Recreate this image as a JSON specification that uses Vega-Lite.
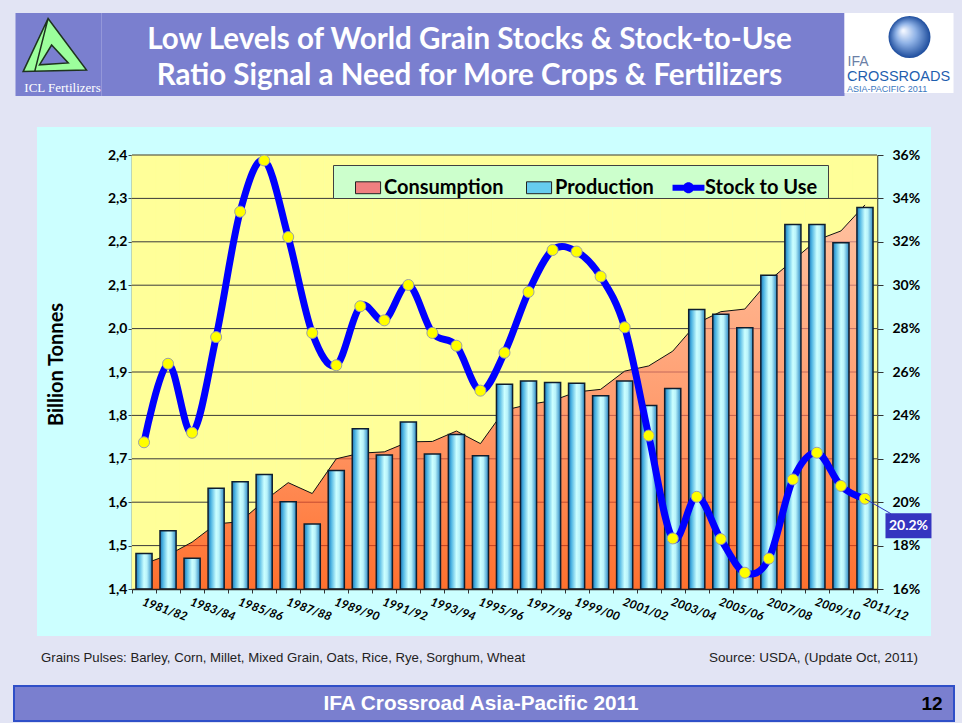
{
  "$schema": "https://vega.github.io/schema/vega-lite/v6.json",
  "background": "#E2E4F4",
  "padding": {"left": 13, "top": 13, "right": 9, "bottom": 2},
  "config": {"view": {"stroke": null}, "font": "Lato"},
  "datasets": {
    "grain": [
      {"season": "1981/82", "production": 1.482, "consumption": 1.458, "stu": 0.2276},
      {"season": "1982/83", "production": 1.534, "consumption": 1.478, "stu": 0.2638},
      {"season": "1983/84", "production": 1.471, "consumption": 1.508, "stu": 0.2320},
      {"season": "1984/85", "production": 1.632, "consumption": 1.550, "stu": 0.2761},
      {"season": "1985/86", "production": 1.647, "consumption": 1.555, "stu": 0.3339},
      {"season": "1986/87", "production": 1.664, "consumption": 1.603, "stu": 0.3575},
      {"season": "1987/88", "production": 1.601, "consumption": 1.645, "stu": 0.3222},
      {"season": "1988/89", "production": 1.550, "consumption": 1.620, "stu": 0.2780},
      {"season": "1989/90", "production": 1.673, "consumption": 1.700, "stu": 0.2631},
      {"season": "1990/91", "production": 1.769, "consumption": 1.713, "stu": 0.2903},
      {"season": "1991/92", "production": 1.709, "consumption": 1.716, "stu": 0.2838},
      {"season": "1992/93", "production": 1.785, "consumption": 1.739, "stu": 0.3001},
      {"season": "1993/94", "production": 1.711, "consumption": 1.740, "stu": 0.2780},
      {"season": "1994/95", "production": 1.756, "consumption": 1.764, "stu": 0.2721},
      {"season": "1995/96", "production": 1.707, "consumption": 1.735, "stu": 0.2514},
      {"season": "1996/97", "production": 1.872, "consumption": 1.812, "stu": 0.2689},
      {"season": "1997/98", "production": 1.879, "consumption": 1.825, "stu": 0.2969},
      {"season": "1998/99", "production": 1.876, "consumption": 1.834, "stu": 0.3162},
      {"season": "1999/00", "production": 1.874, "consumption": 1.854, "stu": 0.3155},
      {"season": "2000/01", "production": 1.845, "consumption": 1.860, "stu": 0.3040},
      {"season": "2001/02", "production": 1.879, "consumption": 1.902, "stu": 0.2806},
      {"season": "2002/03", "production": 1.823, "consumption": 1.914, "stu": 0.2307},
      {"season": "2003/04", "production": 1.862, "consumption": 1.948, "stu": 0.1833},
      {"season": "2004/05", "production": 2.044, "consumption": 2.012, "stu": 0.2025},
      {"season": "2005/06", "production": 2.033, "consumption": 2.039, "stu": 0.1830},
      {"season": "2006/07", "production": 2.002, "consumption": 2.045, "stu": 0.1675},
      {"season": "2007/08", "production": 2.123, "consumption": 2.110, "stu": 0.1740},
      {"season": "2008/09", "production": 2.240, "consumption": 2.157, "stu": 0.2105},
      {"season": "2009/10", "production": 2.240, "consumption": 2.204, "stu": 0.2228},
      {"season": "2010/11", "production": 2.198, "consumption": 2.225, "stu": 0.2075},
      {"season": "2011/12", "production": 2.279, "consumption": 2.285, "stu": 0.2016}
    ],
    "grid": [{"v": 1.5}, {"v": 1.6}, {"v": 1.7}, {"v": 1.8}, {"v": 1.9}, {"v": 2.0}, {"v": 2.1}, {"v": 2.2}, {"v": 2.3}, {"v": 2.4}]
  },
  "vconcat": [
    {
      "hconcat": [
        {
          "width": 86, "height": 83,
          "view": {"fill": "#7A7FCF", "stroke": null},
          "data": {"values": [{"name": "ICL Fertilizers"}]},
          "layer": [
            {"mark": {"type": "point", "shape": "M-0.2,-0.83L1,0.78L-0.98,0.83Z M-0.09,0L-0.47,0.62L0.43,0.56Z M-0.2,-0.83L-0.62,0.83", "size": 4096, "filled": true, "fill": "#9CFF9C", "stroke": "#1E331E", "strokeWidth": 1.5, "opacity": 1, "xOffset": -4, "yOffset": -9.5}, "encoding": {}},
            {"mark": {"type": "text", "font": "Liberation Serif", "fontSize": 13, "color": "#FFFFFF", "dx": 4, "dy": 33}, "encoding": {"text": {"field": "name"}}}
          ]
        },
        {
          "width": 743, "height": 83,
          "view": {"fill": "#7A7FCF", "stroke": null},
          "data": {"values": [{"line": 1, "text": "Low Levels of World Grain Stocks & Stock-to-Use"}, {"line": 2, "text": "Ratio Signal a Need for More Crops & Fertilizers"}]},
          "mark": {"type": "text", "font": "Lato", "fontWeight": "bold", "fontSize": 29.5, "color": "#FFFFFF", "dx": -3.5, "dy": 3.5},
          "encoding": {
            "y": {"field": "line", "type": "ordinal", "scale": {"type": "point", "padding": 0.653}, "axis": null},
            "text": {"field": "text"}
          }
        },
        {
          "width": 109, "height": 80,
          "view": {"fill": "#FFFFFF", "stroke": null},
          "data": {"values": [{"t": "IFA", "r": 1}, {"t": "CROSSROADS", "r": 2}, {"t": "ASIA-PACIFIC 2011", "r": 3}]},
          "layer": [
            {"transform": [{"filter": "datum.r == 1"}], "mark": {"type": "point", "filled": true, "opacity": 1, "size": 1764, "fill": {"gradient": "radial", "x1": 0.35, "y1": 0.35, "r1": 0.02, "x2": 0.5, "y2": 0.5, "r2": 0.5, "stops": [{"offset": 0, "color": "#F2F6FF"}, {"offset": 0.45, "color": "#8FB2E6"}, {"offset": 1, "color": "#1D4C9C"}]}, "xOffset": 10.5, "yOffset": -16}, "encoding": {}},
            {"transform": [{"filter": "datum.r == 1"}], "mark": {"type": "text", "align": "left", "font": "Liberation Sans", "fontSize": 14, "color": "#6B7FA6", "dx": -51.5, "dy": 9}, "encoding": {"text": {"field": "t"}}},
            {"transform": [{"filter": "datum.r == 2"}], "mark": {"type": "text", "align": "left", "font": "Liberation Sans", "fontSize": 14.5, "color": "#1F5FAF", "dx": -52, "dy": 24}, "encoding": {"text": {"field": "t"}}},
            {"transform": [{"filter": "datum.r == 3"}], "mark": {"type": "text", "align": "left", "font": "Liberation Sans", "fontSize": 9, "color": "#3B78C0", "dx": -52, "dy": 36}, "encoding": {"text": {"field": "t"}}}
          ]
        }
      ],
      "spacing": 0,
      "bounds": "flush"
    },
    {
      "vconcat": [
        {
          "width": 894, "height": 509,
          "view": {"fill": "#CCFFFF", "stroke": null},
          "layer": [
            {
              "data": {"name": "grain"},
              "layer": [
                {
                  "mark": {"type": "rect", "fill": "#FFFF99", "stroke": "#FFFF99", "strokeWidth": 0.6},
                  "encoding": {
                    "x": {"field": "season", "type": "nominal", "sort": null, "scale": {"domain": ["1981/82","1982/83","1983/84","1984/85","1985/86","1986/87","1987/88","1988/89","1989/90","1990/91","1991/92","1992/93","1993/94","1994/95","1995/96","1996/97","1997/98","1998/99","1999/00","2000/01","2001/02","2002/03","2003/04","2004/05","2005/06","2006/07","2007/08","2008/09","2009/10","2010/11","2011/12"], "range": [95, 840], "paddingInner": 0, "paddingOuter": 0},
                      "axis": {"orient": "bottom", "offset": -47, "title": null, "labelAngle": 20, "labelAlign": "left", "labelBaseline": "top", "labelExpr": "toNumber(substring(datum.label, 0, 4)) % 2 == 1 ? datum.label : ''", "labelFont": "Lato", "labelFontStyle": "italic", "labelFontWeight": "bold", "labelFontSize": 12, "labelColor": "#000000", "labelPadding": 3, "labelOverlap": false, "labelFlush": false, "tickSize": 4, "tickBand": "extent", "tickColor": "#333333", "domainColor": "#222222", "domainWidth": 1.5, "grid": false}},
                    "y": {"datum": 1.4, "type": "quantitative", "scale": {"domain": [1.4, 2.4], "range": [462, 28], "zero": false, "nice": false},
                      "axis": {"orient": "left", "offset": -95, "values": [1.4, 1.5, 1.6, 1.7, 1.8, 1.9, 2.0, 2.1, 2.2, 2.3, 2.4], "labelExpr": "replace(format(datum.value, '.1f'), '.', ',')", "labelFont": "Lato", "labelFontWeight": "bold", "labelFontSize": 14, "labelColor": "#000000", "labelPadding": 1, "labelOverlap": false, "tickSize": 4, "tickColor": "#444444", "domainColor": "#222222", "domainWidth": 1.5, "grid": false, "title": "Billion Tonnes", "titleFont": "Lato", "titleFontSize": 20, "titleFontWeight": "bold", "titleColor": "#000000", "titlePadding": 41, "titleY": 237}},
                    "y2": {"datum": 2.4}
                  }
                },
                {
                  "data": {"name": "grid"},
                  "mark": {"type": "rule", "color": "#3A3A3A", "strokeWidth": 1},
                  "encoding": {
                    "x": {"datum": "1981/82", "type": "nominal", "bandPosition": 0},
                    "x2": {"datum": "2011/12", "bandPosition": 1},
                    "y": {"field": "v", "type": "quantitative"}
                  }
                },
                {
                  "mark": {"type": "area", "fill": {"gradient": "linear", "x1": 0, "y1": 0, "x2": 0, "y2": 1, "stops": [{"offset": 0, "color": "#FFA8A4"}, {"offset": 0.5, "color": "#FF7560"}, {"offset": 1, "color": "#FF3300"}]}, "line": {"color": "#111111", "strokeWidth": 1}},
                  "encoding": {
                    "x": {"field": "season", "type": "nominal", "sort": null},
                    "y": {"field": "consumption", "type": "quantitative"},
                    "y2": {"datum": 1.4}
                  }
                },
                {
                  "mark": {"type": "bar", "width": {"band": 0.67}, "fill": {"gradient": "linear", "x1": 0, "y1": 0, "x2": 1, "y2": 0, "stops": [{"offset": 0, "color": "#1C74B4"}, {"offset": 0.18, "color": "#4DB4E2"}, {"offset": 0.5, "color": "#CCFFFF"}, {"offset": 0.68, "color": "#B8F2FA"}, {"offset": 1, "color": "#2A88C4"}]}, "stroke": "#0F1E2E", "strokeWidth": 1.5},
                  "encoding": {
                    "x": {"field": "season", "type": "nominal", "sort": null},
                    "y": {"field": "production", "type": "quantitative"},
                    "y2": {"datum": 1.4}
                  }
                }
              ]
            },
            {
              "data": {"name": "grain"},
              "layer": [
                {
                  "mark": {"type": "line", "color": "#0000FF", "strokeWidth": 7, "interpolate": "cardinal", "strokeCap": "round"},
                  "encoding": {
                    "x": {"field": "season", "type": "nominal", "sort": null},
                    "y": {"field": "stu", "type": "quantitative", "scale": {"domain": [0.16, 0.36], "range": [462, 28], "zero": false, "nice": false},
                      "axis": {"orient": "right", "offset": -54, "values": [0.16, 0.18, 0.2, 0.22, 0.24, 0.26, 0.28, 0.3, 0.32, 0.34, 0.36], "format": ".0%", "labelFont": "Lato", "labelFontWeight": "bold", "labelFontSize": 14, "labelColor": "#000000", "labelPadding": 9, "labelOverlap": false, "tickSize": 6, "tickColor": "#333333", "domainColor": "#222222", "domainWidth": 1.5, "grid": false, "title": null}}
                  }
                },
                {
                  "mark": {"type": "point", "filled": true, "opacity": 1, "fill": "#FFFF00", "stroke": "#9AA0A8", "strokeWidth": 1, "size": 121},
                  "encoding": {
                    "x": {"field": "season", "type": "nominal", "sort": null},
                    "y": {"field": "stu", "type": "quantitative"}
                  }
                },
                {
                  "transform": [{"filter": "datum.season === '2011/12'"}],
                  "mark": {"type": "rule", "color": "#3333C0", "strokeWidth": 1, "x2Offset": 26, "y2Offset": 15},
                  "encoding": {
                    "x": {"field": "season", "type": "nominal", "sort": null},
                    "x2": {"field": "season"},
                    "y": {"field": "stu", "type": "quantitative"},
                    "y2": {"field": "stu"}
                  }
                },
                {
                  "transform": [{"filter": "datum.season === '2011/12'"}],
                  "mark": {"type": "point", "shape": "M-1,-0.54H1V0.54H-1Z", "size": 2116, "filled": true, "opacity": 1, "fill": "#3535C0", "strokeWidth": 0, "xOffset": 43.5, "yOffset": 27},
                  "encoding": {
                    "x": {"field": "season", "type": "nominal", "sort": null},
                    "y": {"field": "stu", "type": "quantitative"}
                  }
                },
                {
                  "transform": [{"filter": "datum.season === '2011/12'"}],
                  "mark": {"type": "text", "font": "Lato", "fontWeight": "bold", "fontSize": 14, "color": "#FFFFFF", "dx": 43.5, "dy": 27},
                  "encoding": {
                    "x": {"field": "season", "type": "nominal", "sort": null},
                    "y": {"field": "stu", "type": "quantitative"},
                    "text": {"field": "stu", "format": ".1%"}
                  }
                }
              ]
            },
            {
              "data": {"values": [{"series": "Consumption"}, {"series": "Production"}, {"series": "Stock to Use"}]},
              "mark": {"type": "point", "filled": true, "size": 0, "opacity": 1},
              "encoding": {
                "color": {"field": "series", "type": "nominal",
                  "scale": {"domain": ["Consumption", "Production", "Stock to Use"], "range": ["#F08080", "#66CCEE", "#0000FF"]},
                  "legend": {
                    "orient": "none", "legendX": 319, "legendY": 152, "direction": "horizontal",
                    "title": " ", "titleOrient": "right", "titlePadding": 11, "titleFontSize": 8,
                    "fillColor": "#CCFFCC", "strokeColor": "#404040", "padding": 0,
                    "symbolSize": 1936, "labelFont": "Lato", "labelFontSize": 20, "labelFontWeight": "bold", "labelColor": "#000000",
                    "labelOffset": 6, "columnPadding": 0, "labelLimit": 300,
                    "encoding": {
                      "symbols": {
                        "shape": {"condition": {"test": "datum.value === 'Stock to Use'", "value": "M-0.18,-0.14H1.27V0.14H-0.18Z M0.795,0A0.25,0.25,0,1,1,0.295,0A0.25,0.25,0,1,1,0.795,0Z"}, "value": "M0,-0.27H1.14V0.27H0Z"},
                        "fill": {"condition": [
                            {"test": "datum.value === 'Consumption'", "value": {"gradient": "linear", "x1": 0, "y1": 0, "x2": 0, "y2": 1, "stops": [{"offset": 0, "color": "#F5A8A8"}, {"offset": 1, "color": "#E0463C"}]}},
                            {"test": "datum.value === 'Production'", "value": {"gradient": "linear", "x1": 0, "y1": 0, "x2": 1, "y2": 0, "stops": [{"offset": 0, "color": "#1F7EC2"}, {"offset": 0.5, "color": "#CFFFFF"}, {"offset": 1, "color": "#2A8AC8"}]}}
                          ],
                          "value": {"gradient": "linear", "x1": 0, "y1": 0, "x2": 1, "y2": 0, "stops": [{"offset": 0, "color": "#0000FF"}, {"offset": 0.327, "color": "#0000FF"}, {"offset": 0.328, "color": "#FFFF00"}, {"offset": 0.672, "color": "#FFFF00"}, {"offset": 0.673, "color": "#0000FF"}, {"offset": 1, "color": "#0000FF"}]}},
                        "stroke": {"condition": {"test": "datum.value === 'Stock to Use'", "value": "transparent"}, "value": "#222222"},
                        "strokeWidth": {"value": 1},
                        "opacity": {"value": 1}
                      }
                    }
                  }
                }
              }
            }
          ],
          "resolve": {"scale": {"y": "independent"}, "axis": {"y": "independent"}}
        },
        {
          "width": 894, "height": 26,
          "view": {"fill": null, "stroke": null},
          "data": {"values": [{"note": "Grains Pulses: Barley, Corn, Millet, Mixed Grain, Oats, Rice, Rye, Sorghum, Wheat", "side": "left"}, {"note": "Source: USDA, (Update Oct, 2011)", "side": "right"}]},
          "layer": [
            {
              "transform": [{"filter": "datum.side === 'left'"}],
              "mark": {"type": "text", "align": "left", "font": "Liberation Sans", "fontSize": 13.2, "color": "#222222", "dx": 4, "dy": -3},
              "encoding": {"x": {"field": "side", "type": "nominal", "scale": {"type": "point", "domain": ["left", "right"], "padding": 0}, "axis": null}, "text": {"field": "note"}}
            },
            {
              "transform": [{"filter": "datum.side === 'right'"}],
              "mark": {"type": "text", "align": "right", "font": "Liberation Sans", "fontSize": 13.5, "color": "#222222", "dx": -13, "dy": -3},
              "encoding": {"x": {"field": "side", "type": "nominal", "scale": {"type": "point", "domain": ["left", "right"], "padding": 0}, "axis": null}, "text": {"field": "note"}}
            }
          ]
        },
        {
          "width": 940, "height": 35,
          "view": {"fill": "#7A7FCF", "stroke": "#2F4FC8", "strokeWidth": 2},
          "data": {"values": [{"t": "IFA Crossroad Asia-Pacific 2011", "k": "title"}, {"t": "12", "k": "page"}]},
          "layer": [
            {"transform": [{"filter": "datum.k === 'title'"}], "mark": {"type": "text", "font": "Liberation Sans", "fontWeight": "bold", "fontSize": 20.8, "color": "#FFFFFF", "dx": -3}, "encoding": {"text": {"field": "t"}}},
            {"transform": [{"filter": "datum.k === 'page'"}], "mark": {"type": "text", "font": "Liberation Sans", "fontWeight": "bold", "fontSize": 19, "color": "#000000", "dx": 448}, "encoding": {"text": {"field": "t"}}}
          ]
        }
      ],
      "spacing": 12,
      "center": true,
      "bounds": "flush"
    }
  ],
  "spacing": 31,
  "center": true
}
